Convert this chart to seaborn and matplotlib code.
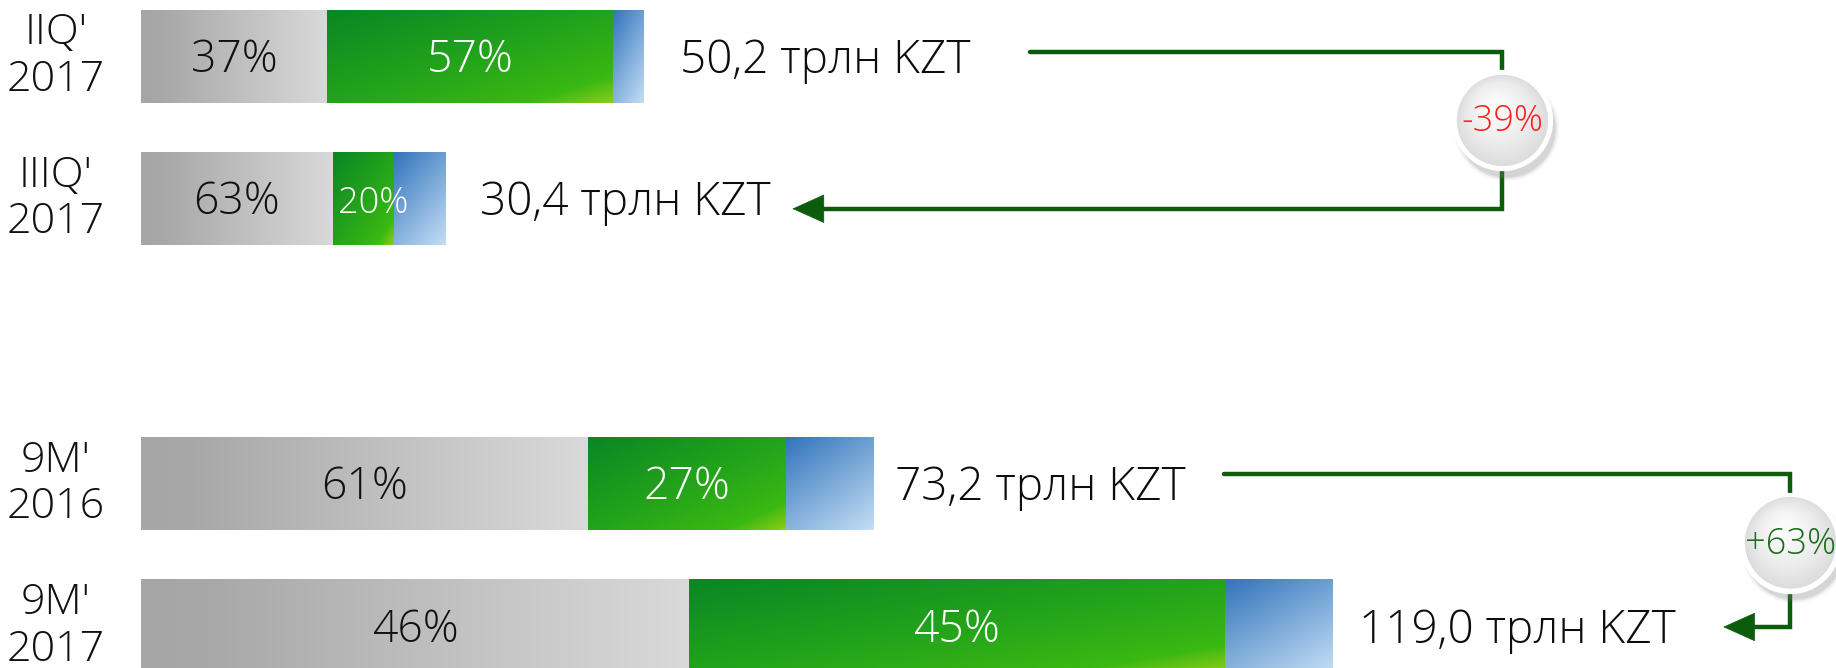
import numpy as np
import pandas as pd
import matplotlib
matplotlib.use("Agg")
import matplotlib.pyplot as plt
import seaborn as sns

# data
periods = ["IIQ'\n2017", "IIIQ'\n2017", "9M'\n2016", "9M'\n2017"]
totals = [50.2, 30.4, 73.2, 119.0]          # трлн KZT
share_gray = [37, 63, 61, 46]               # %
share_green = [57, 20, 27, 45]              # %
total_labels = ["50,2 трлн KZT", "30,4 трлн KZT", "73,2 трлн KZT", "119,0 трлн KZT"]
changes = ["-39%", "+63%"]
change_colors = ["#ff1f1f", "#1f6a1f"]

sns.set_style("white")
plt.rcParams["font.family"] = ["Open Sans", "Roboto", "DejaVu Sans"]
FW = 300

df = pd.DataFrame({
    "period": periods,
    "total": totals,
    "gray": [t * g / 100 for t, g in zip(totals, share_gray)],
    "green": [t * (g + r) / 100 for t, g, r in zip(totals, share_gray, share_green)],
})
order = [periods[0], periods[1], "", periods[2], periods[3]]
ypos = [order.index(p) for p in periods]
bar_h = 0.65

fig = plt.figure(figsize=(18.36, 6.68), dpi=100)
ax = fig.add_axes([0, 0, 1, 1])

# stacked bars: total (blue) under cumulative green under gray
sns.barplot(data=df, x="total", y="period", order=order, color="#8ab4de", width=bar_h, ax=ax, orient="h")
sns.barplot(data=df, x="green", y="period", order=order, color="#2aa51a", width=bar_h, ax=ax, orient="h")
sns.barplot(data=df, x="gray", y="period", order=order, color="#c0c0c0", width=bar_h, ax=ax, orient="h")


def gradient(stops, wu, wv, nx=300, ny=80):
    u = np.linspace(0, 1, nx)[None, :]
    v = np.linspace(0, 1, ny)[:, None]
    t = np.clip(wu * u + wv * v, 0, 1)
    pos = [s[0] for s in stops]
    img = np.zeros((ny, nx, 3))
    for c in range(3):
        img[..., c] = np.interp(t, pos, [s[1][c] / 255 for s in stops])
    return img


gray_img = gradient([(0, (166, 166, 166)), (0.12, (168, 168, 168)), (1, (217, 217, 217))], 1.0, 0.0)
green_img = gradient([(0, (10, 134, 36)), (0.55, (38, 166, 26)), (0.85, (58, 184, 18)), (1, (140, 206, 22))], 0.5, 0.5)
blue_img = gradient([(0, (50, 116, 188)), (1, (196, 222, 244))], 0.4, 0.6)

for i, y in enumerate(ypos):
    t = df["total"][i]
    g = df["gray"][i]
    gg = df["green"][i]
    for x0, x1, img in [(0, g, gray_img), (g, gg, green_img), (gg, t, blue_img)]:
        ax.imshow(img, extent=(x0, x1, y + bar_h / 2, y - bar_h / 2), aspect="auto",
                  interpolation="bilinear", zorder=3)
    # segment labels
    ax.text(g / 2, y + 0.03, f"{share_gray[i]}%", ha="center", va="center",
            fontsize=32, fontweight=FW, color="#111111", zorder=5)
    small = share_green[i] < 25
    ax.text((g + gg) / 2 + (1.0 if small else 0), y + 0.03, f"{share_green[i]}%", ha="center", va="center",
            fontsize=26 if small else 32, fontweight=FW, color="white", zorder=5)
    # period label
    ax.text(-8.5, y, periods[i], ha="center", va="center", fontsize=31,
            fontweight=FW, color="#111111", linespacing=1.12)

# total labels (gap after bar end)
label_gaps = [3.7, 3.5, 2.1, 2.7]
for i, y in enumerate(ypos):
    ax.text(totals[i] + label_gaps[i], y + 0.03, total_labels[i], ha="left", va="center",
            fontsize=33, fontweight=FW, color="#0d0d0d", zorder=5)

# connectors with change badges
line_col = "#0b5c0b"
connectors = [
    # start x, elbow x, tip x, y from, y to, badge y
    (88.8, 136.0, 64.8, ypos[0] - 0.033, ypos[1] + 0.07, 0.45),
    (108.2, 164.8, 157.8, ypos[2] - 0.066, ypos[3] + 0.005, 3.415),
]
for k, (xs, xe, xt, y0, y1, by) in enumerate(connectors):
    ax.plot([xs, xe, xe, xt + 1.5], [y0, y0, y1, y1], color=line_col, lw=3.2,
            solid_joinstyle="miter", zorder=2)
    ax.annotate("", xy=(xt, y1), xytext=(xt + 3.0, y1),
                arrowprops=dict(arrowstyle="-|>,head_length=1.0,head_width=0.45",
                                color=line_col, lw=0.5, mutation_scale=22), zorder=2)
    # badge: soft shadow, white rim, radial-ish fill
    for s, a in [(5700, 0.08), (5300, 0.12), (5000, 0.16)]:
        ax.scatter([xe + 0.4], [by + 0.05], s=s, color="#808080", alpha=a, lw=0, zorder=6)
    ax.scatter([xe], [by], s=4750, facecolor="#dadada", edgecolor="white", lw=4, zorder=7)
    n = 16
    for j in range(1, n + 1):
        f = j / n
        c = 0.86 + 0.12 * f
        ax.scatter([xe - 0.6 * f], [by - 0.10 * f], s=4450 * (1 - f) ** 1.2 + 200,
                   color=(c, c, c), lw=0, zorder=7)
    ax.text(xe, by + 0.01, changes[k], ha="center", va="center", fontsize=26,
            fontweight=FW, color=change_colors[k], zorder=8)

ax.set_xlim(-14.09, 169.35)
ax.set_ylim(4.293, -0.395)
ax.axis("off")

fig.savefig("out.png", dpi=100)
